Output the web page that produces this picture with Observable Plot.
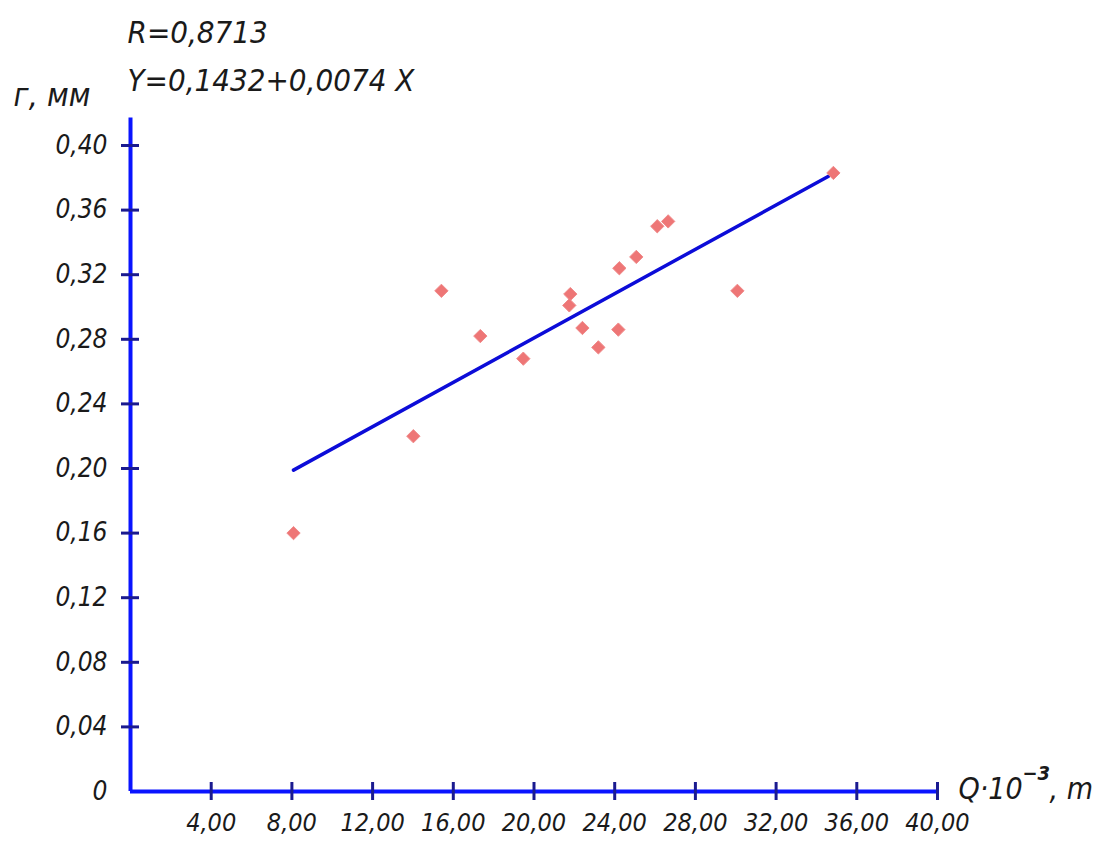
<!DOCTYPE html>
<html>
<head>
<meta charset="utf-8">
<script src="https://cdn.jsdelivr.net/npm/d3@7"></script>
<script src="https://cdn.jsdelivr.net/npm/@observablehq/plot@0.6"></script>
<style>
  html, body { margin: 0; padding: 0; background: #fff; }
  #chart svg { display: block; }
</style>
</head>
<body>
<div id="chart"></div>
<script>
// Data
const qValues = [8.08, 14.02, 15.41, 17.34, 19.47, 21.80, 21.75, 22.40, 23.19, 24.18, 24.23, 25.07, 26.11, 26.65, 30.08, 34.84];
const rValues = [0.160, 0.220, 0.310, 0.282, 0.268, 0.308, 0.301, 0.287, 0.275, 0.286, 0.324, 0.331, 0.350, 0.353, 0.310, 0.383];
const fitQ = [8.08, 34.6];
const fitR = [0.199, 0.381];
const xTicks = [4, 8, 12, 16, 20, 24, 28, 32, 36, 40];
const yTicks = [0.04, 0.08, 0.12, 0.16, 0.20, 0.24, 0.28, 0.32, 0.36, 0.40];
const yAxisTop = 0.417;
const titleLines = ["R=0,8713", "Y=0,1432+0,0074 X"];
const yLabel = "г, мм";
const xLabelParts = ["Q·10", "−3", ", m"];

const points = qValues.map((q, i) => ({q, r: rValues[i]}));
const fit = fitQ.map((q, i) => ({q, r: fitR[i]}));
const fmt = d => d === 0 ? "0" : d.toFixed(2).replace(".", ",");

const FONT = "'Liberation Sans Narrow', 'DejaVu Sans Condensed', 'Liberation Sans', sans-serif";
const AXIS = "#0a14ff";
const TICK = "#1a1a90";
const TXT = "#1a1a1a";

const plot = Plot.plot({
  width: 1115,
  height: 845,
  marginLeft: 130,
  marginRight: 178,
  marginTop: 145,
  marginBottom: 54,
  x: {domain: [0, 40], axis: null},
  y: {domain: [0, 0.4], axis: null},
  style: {background: "#fff", overflow: "visible"},
  marks: [
    // axis lines
    Plot.ruleY([0], {x1: 0, x2: 40, stroke: AXIS, strokeWidth: 4}),
    Plot.ruleX([0], {y1: 0, y2: yAxisTop, stroke: AXIS, strokeWidth: 4}),
    // crossing ticks
    Plot.ruleX(xTicks, {x: d => d, y1: 0, y2: 0, insetTop: -9, insetBottom: -9, stroke: TICK, strokeWidth: 3}),
    Plot.ruleY(yTicks, {y: d => d, x1: 0, x2: 0, insetLeft: -9, insetRight: -9, stroke: TICK, strokeWidth: 3}),
    // tick labels
    Plot.axisX({ticks: xTicks, tickSize: 0, tickPadding: 22, tickFormat: fmt, label: null,
      fontSize: 25, fontStyle: "italic", fontFamily: FONT, color: TXT}),
    Plot.axisY({ticks: [0, ...yTicks], tickSize: 0, tickPadding: 23, tickFormat: fmt, label: null,
      fontSize: 26, fontStyle: "italic", fontFamily: FONT, color: TXT}),
    // regression line
    Plot.line(fit, {x: "q", y: "r", stroke: "#0c0cd8", strokeWidth: 3.5}),
    // data points
    Plot.dot(points, {x: "q", y: "r", symbol: "diamond2", r: 6, fill: "#ee7676", stroke: "#f08a8a", strokeWidth: 1}),
    // titles
    Plot.text([titleLines[0]], {frameAnchor: "top-left", dx: -3, dy: -103, text: d => d, textAnchor: "start", lineAnchor: "bottom",
      fontSize: 31, fontStyle: "italic", fontFamily: FONT, fill: TXT}),
    Plot.text([titleLines[1]], {frameAnchor: "top-left", dx: -3, dy: -55, text: d => d, textAnchor: "start", lineAnchor: "bottom",
      fontSize: 31, fontStyle: "italic", fontFamily: FONT, fill: TXT}),
    Plot.text([yLabel], {frameAnchor: "top-left", dx: -117, dy: -40, text: d => d, textAnchor: "start", lineAnchor: "bottom",
      fontSize: 32, fontStyle: "italic", fontFamily: FONT, fill: TXT}),
    // x label
    Plot.text([xLabelParts[0]], {frameAnchor: "bottom-right", dx: 21, dy: 7, text: d => d, textAnchor: "start", lineAnchor: "bottom",
      fontSize: 30, fontStyle: "italic", fontFamily: FONT, fill: TXT}),
    Plot.text([xLabelParts[1]], {frameAnchor: "bottom-right", dx: 85, dy: -12, text: d => d, textAnchor: "start", lineAnchor: "bottom",
      fontSize: 20, fontWeight: "bold", fontStyle: "italic", fontFamily: FONT, fill: TXT}),
    Plot.text([xLabelParts[2]], {frameAnchor: "bottom-right", dx: 112, dy: 7, text: d => d, textAnchor: "start", lineAnchor: "bottom",
      fontSize: 30, fontStyle: "italic", fontFamily: FONT, fill: TXT})
  ]
});
document.getElementById("chart").appendChild(plot);
</script>
</body>
</html>
